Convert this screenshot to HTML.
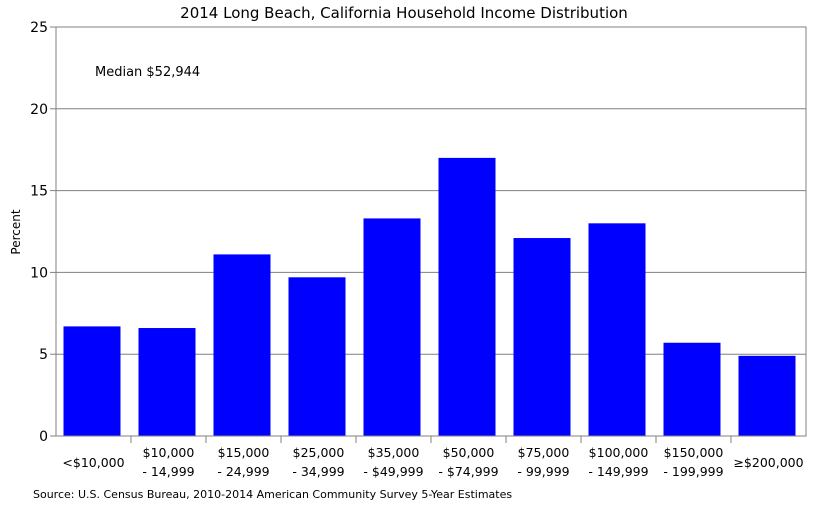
<!DOCTYPE html>
<html><head><meta charset="utf-8"><style>
html,body{margin:0;padding:0;background:#fff;}
svg{display:block;font-family:"DejaVu Sans","Liberation Sans",sans-serif;}
</style></head><body>
<svg id="chart" width="819" height="512" viewBox="0 0 819 512">
<text x="404" y="18" text-anchor="middle" font-size="15" fill="#000">2014 Long Beach, California Household Income Distribution</text>
<text x="20" y="232" text-anchor="middle" font-size="12" transform="rotate(-90 20 232)">Percent</text>
<text x="95" y="76" font-size="13">Median $52,944</text>
<text x="33" y="498" font-size="11">Source: U.S. Census Bureau, 2010-2014 American Community Survey 5-Year Estimates</text>
<g id="grid"></g><g id="bars"></g><g id="axes"></g>
</svg>
<script>
const categories = [["<$10,000"],["$10,000","- 14,999"],["$15,000","- 24,999"],["$25,000","- 34,999"],["$35,000","- $49,999"],["$50,000","- $74,999"],["$75,000","- 99,999"],["$100,000","- 149,999"],["$150,000","- 199,999"],["≥$200,000"]];
const values = [6.7,6.6,11.1,9.7,13.3,17.0,12.1,13.0,5.7,4.9];
const yTicks = [0,5,10,15,20,25];
const NS="http://www.w3.org/2000/svg";
const L=56,R=806,T=27,B=436,yMax=25;
const y=v=>B-(v/yMax)*(B-T);
const slot=(R-L)/categories.length;
const x=i=>L+i*slot;
function mk(tag,attrs,parent){const e=document.createElementNS(NS,tag);for(const k in attrs)e.setAttribute(k,attrs[k]);parent.appendChild(e);return e;}
const grid=document.getElementById('grid'),bars=document.getElementById('bars'),axes=document.getElementById('axes');
yTicks.forEach(t=>{
  const g=mk('line',{x1:L,x2:R,y1:y(t),y2:y(t),stroke:'#808080','stroke-width':1},grid);
  
  
  const tk=mk('line',{x1:L-6,x2:L,y1:y(t),y2:y(t),stroke:'#808080'},axes);
  
  
  const lb=mk('text',{x:L-8,y:y(t)+5,'text-anchor':'end','font-size':14},axes);
  lb.textContent=t;
  
  
});
values.forEach((v,i)=>{
  const r=mk('rect',{x:x(i)+7.5,y:y(v),width:slot-18,height:B-y(v),fill:'#0000ff'},bars);
  
  
  const lines=categories[i];
  const cx=x(i)+slot/2;
  const t=mk('text',{x:cx,'text-anchor':'middle','font-size':12.5},axes);
  
  
  if(lines.length===1){mk('tspan',{x:cx,y:467},t).textContent=lines[0];}
  else{mk('tspan',{x:cx,y:457},t).textContent=lines[0];mk('tspan',{x:cx,y:476},t).textContent=lines[1];}
  if(i>0){const tk=mk('line',{x1:x(i),x2:x(i),y1:B,y2:B+7,stroke:'#808080'},axes);
  
  }
});
const f=mk('rect',{x:L,y:T,width:R-L,height:B-T,fill:'none',stroke:'#808080'},axes);


</script>
</body></html>
